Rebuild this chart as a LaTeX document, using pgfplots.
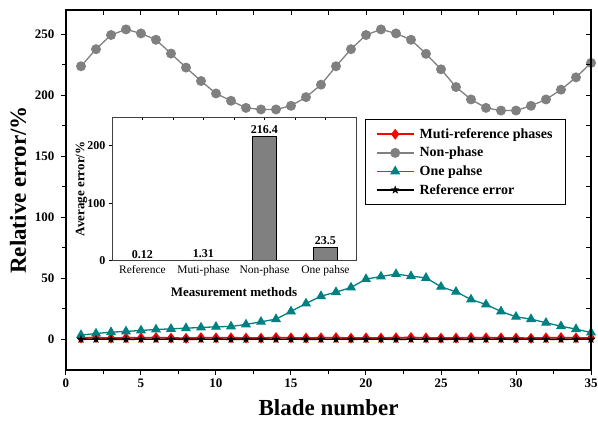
\documentclass[border=0pt]{standalone}
\usepackage{fontspec}
\setmainfont{Liberation Serif}
\usepackage{pgfplots}
\pgfplotsset{compat=1.18}
\usepackage{pgfplotstable}

\definecolor{npgray}{RGB}{128,128,128}
\definecolor{opteal}{RGB}{0,128,128}

% filled five-pointed star
\pgfdeclareplotmark{fstar}{%
  \pgfpathmoveto{\pgfpointpolar{90}{\pgfplotmarksize}}%
  \pgfpathlineto{\pgfpointpolar{126}{0.4\pgfplotmarksize}}%
  \pgfpathlineto{\pgfpointpolar{162}{\pgfplotmarksize}}%
  \pgfpathlineto{\pgfpointpolar{198}{0.4\pgfplotmarksize}}%
  \pgfpathlineto{\pgfpointpolar{234}{\pgfplotmarksize}}%
  \pgfpathlineto{\pgfpointpolar{270}{0.4\pgfplotmarksize}}%
  \pgfpathlineto{\pgfpointpolar{306}{\pgfplotmarksize}}%
  \pgfpathlineto{\pgfpointpolar{342}{0.4\pgfplotmarksize}}%
  \pgfpathlineto{\pgfpointpolar{18}{\pgfplotmarksize}}%
  \pgfpathlineto{\pgfpointpolar{54}{0.4\pgfplotmarksize}}%
  \pgfpathclose\pgfusepathqfillstroke}

% relative error of each blade for the four methods
\pgfplotstableread{
blade multi non one ref
1  1.2 223.9  3.6 0.10
2  1.5 237.9  4.9 0.15
3  1.1 249.5  6.0 0.12
4  1.4 254.1  6.6 0.08
5  1.3 250.8  7.4 0.14
6  1.6 245.6  8.2 0.11
7  1.2 234.3  8.7 0.13
8  1.0 222.8  9.3 0.10
9  1.5 211.8  9.8 0.12
10 1.3 201.6 10.4 0.15
11 1.4 195.6 10.7 0.09
12 1.2 189.8 12.3 0.12
13 1.1 188.5 14.5 0.13
14 1.6 188.5 16.7 0.11
15 1.3 191.5 23.0 0.14
16 1.2 198.6 29.5 0.10
17 1.4 208.8 35.5 0.12
18 1.5 223.9 38.8 0.13
19 1.1 237.9 42.6 0.11
20 1.3 249.5 49.5 0.12
21 1.2 254.1 51.6 0.14
22 1.4 250.8 53.6 0.10
23 1.6 245.6 51.9 0.12
24 1.3 234.1 50.5 0.13
25 1.1 221.4 43.2 0.11
26 1.2 206.9 39.1 0.12
27 1.5 196.7 32.8 0.10
28 1.4 189.8 28.7 0.14
29 1.3 187.6 23.0 0.12
30 1.2 187.6 18.6 0.11
31 1.0 191.5 16.7 0.13
32 1.4 196.7 13.7 0.12
33 1.5 204.7 10.9 0.10
34 1.3 214.8  8.5 0.13
35 1.2 226.6  5.7 0.12
}\errtable

\begin{document}
\begin{tikzpicture}
\useasboundingbox (-66pt,-53pt) rectangle (532pt,370pt);

% main chart
\begin{axis}[
  at={(0pt,0pt)}, anchor=south west,
  scale only axis, width=525pt, height=360pt,
  xmin=0, xmax=35, ymin=-25, ymax=270,
  xtick={0,5,...,35}, ytick={0,50,...,250},
  minor x tick num=1, minor y tick num=1,
  xtick pos=left, ytick pos=left, tick align=outside,
  major tick length=5pt, minor tick length=4pt,
  axis line style={line width=1.2pt},
  every tick/.style={black, line width=1pt},
  /pgf/number format/assume math mode=true,
  tick label style={font=\bfseries\fontsize{13}{15}\selectfont},
  yticklabel style={xshift=-3pt},
  xlabel={Blade number}, ylabel={Relative error/\%},
  label style={font=\bfseries\fontsize{23}{26}\selectfont},
  xlabel style={at={(axis description cs:0.5,-0.1056)}, anchor=center},
  ylabel style={at={(axis description cs:-0.0914,0.5)}, anchor=center},
  legend cell align=left,
  legend image code/.code={\draw[mark repeat=2,mark phase=2] plot coordinates {(0pt,0pt) (18.5pt,0pt) (37pt,0pt)};},
  legend style={at={(0.5686,0.6964)}, anchor=north west, draw=black, line width=0.6pt,
    fill=white, font=\bfseries\fontsize{14}{16}\selectfont,
    row sep=3.3pt, inner xsep=11pt, inner ysep=7pt,
    /tikz/every odd column/.append style={column sep=3pt}},
]
\addplot[red, line width=1.8pt, mark=diamond*, mark size=4pt, mark options={fill=red}]
  table[x=blade, y=multi] {\errtable};
\addlegendentry{Muti-reference phases}
\addplot[npgray, line width=1.3pt, mark=*, mark size=4.3pt, mark options={fill=npgray}]
  table[x=blade, y=non] {\errtable};
\addlegendentry{Non-phase}
\addplot[opteal, line width=1.3pt, mark=triangle*, mark size=4.5pt, mark options={fill=opteal}]
  table[x=blade, y=one] {\errtable};
\addlegendentry{One pahse}
\addplot[black, line width=1.3pt, mark=fstar, mark size=4pt, mark options={fill=black, line width=0.3pt}]
  table[x=blade, y=ref] {\errtable};
\addlegendentry{Reference error}
\end{axis}

% inward ticks on the top and right frame
\begin{axis}[
  at={(0pt,0pt)}, anchor=south west,
  scale only axis, width=525pt, height=360pt,
  xmin=0, xmax=35, ymin=-25, ymax=270,
  xtick={0,5,...,35}, ytick={0,50,...,250},
  minor x tick num=1, minor y tick num=1,
  xtick pos=right, ytick pos=right, tick align=inside,
  major tick length=5pt, minor tick length=5pt,
  axis line style={line width=1.2pt},
  every tick/.style={black, line width=1pt},
  xticklabels={}, yticklabels={},
]
\end{axis}

% inset: average error of each method
\begin{axis}[
  at={(46pt,109.3pt)}, anchor=south west,
  scale only axis, width=244pt, height=143.7pt,
  xmin=-0.5, xmax=3.5, ymin=0, ymax=250,
  axis background/.style={fill=white},
  axis line style={black!75, line width=0.6pt},
  xtick={0,1,2,3},
  xticklabels={Reference,Muti-phase,Non-phase,One pahse},
  xtick style={draw=none},
  ytick={0,100,200}, ytick pos=left, tick align=outside,
  major tick length=3pt,
  every tick/.style={black, line width=0.6pt},
  /pgf/number format/assume math mode=true,
  xticklabel style={font=\fontsize{11.5}{13}\selectfont, inner sep=2pt},
  yticklabel style={font=\bfseries\fontsize{12}{14}\selectfont},
  xlabel={Measurement methods}, ylabel={Average error/\%},
  label style={font=\bfseries\fontsize{13}{15}\selectfont},
  xlabel style={at={(axis description cs:0.5,-0.216)}, anchor=center},
  ylabel style={at={(axis description cs:-0.125,0.5)}, anchor=center},
  ybar, bar width=24pt,
  nodes near coords,
  nodes near coords style={font=\bfseries\fontsize{12}{14}\selectfont, inner sep=2pt},
]
\addplot[fill=npgray, draw=black, line width=0.6pt]
  coordinates {(0,0.12) (1,1.31) (2,216.4) (3,23.5)};
\end{axis}

% inward ticks along the inset's top edge
\begin{axis}[
  at={(46pt,109.3pt)}, anchor=south west,
  scale only axis, width=244pt, height=143.7pt,
  xmin=-0.5, xmax=3.5, ymin=0, ymax=250,
  axis line style={black!75, line width=0.6pt},
  xtick={0,0.5,...,3}, xtick pos=right, tick align=inside,
  major tick length=3.5pt,
  every tick/.style={black, line width=0.6pt},
  ytick=\empty, xticklabels={},
]
\end{axis}
\end{tikzpicture}
\end{document}
